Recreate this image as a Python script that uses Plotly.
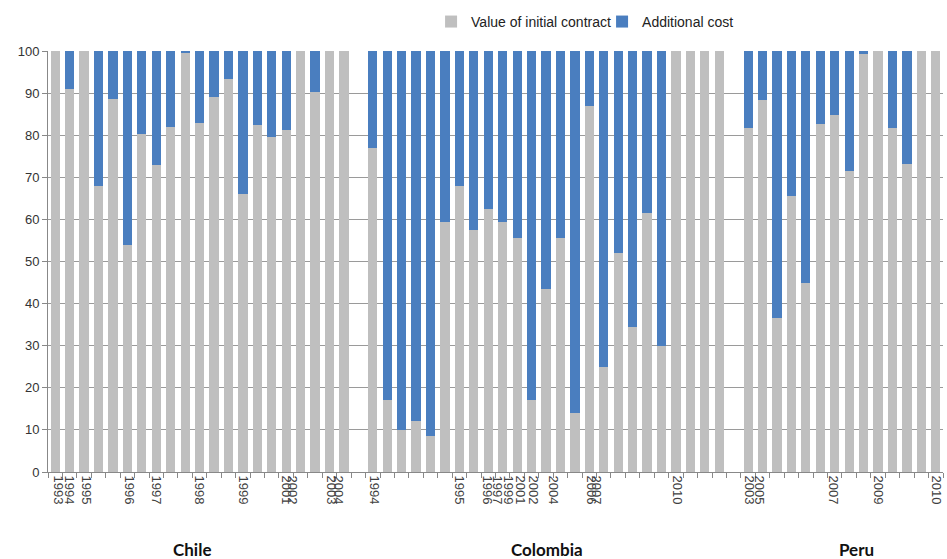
import plotly.graph_objects as go

# ---- data (share of final cost, %) ----
chile_initial = [100, 91, 100, 68, 88.5, 54, 80.4, 73, 82, 99.5, 83, 89, 93.4, 66, 82.4, 79.6, 81.2, 100, 90.3, 100, 100]
colombia_initial = [77, 17, 10, 12, 8.5, 59.5, 68, 57.5, 62.5, 59.5, 55.5, 17, 43.5, 55.5, 14, 87, 25, 52, 34.5, 61.5, 30, 100, 100, 100, 100]
peru_initial = [81.8, 88.3, 36.5, 65.5, 45, 82.7, 84.7, 71.4, 99.2, 100, 81.8, 73.2, 100, 100]

countries = ["Chile", "Colombia", "Peru"]

# year labels shown under the axis, with their place along the bar index axis
tick_labels = ["1993", "1994", "1995", "1996", "1997", "1998", "1999", "2001", "2002", "2003", "2004",
               "1994", "1995", "1996", "1997", "1999", "2001", "2002", "2004", "2006", "2007", "2010",
               "2003", "2005", "2007", "2009", "2010"]
tick_positions = [0.2, 0.95, 2.15, 5.1, 7.0, 10.0, 13.05, 16.0, 16.45, 19.15, 19.6,
                  22.1, 28.0, 29.9, 30.6, 31.4, 32.2, 33.1, 34.5, 37.1, 37.5, 43.1,
                  48.05, 48.8, 53.9, 57.0, 61.0]

# ---- build bar positions (one empty slot between countries) ----
x, initial = [], []
start = 0
for series in (chile_initial, colombia_initial, peru_initial):
    for i, v in enumerate(series):
        x.append(start + i)
        initial.append(v)
    start += len(series) + 1
additional = [round(100 - v, 2) for v in initial]

GREY = "#BFBFBF"
BLUE = "#4A7EBF"

fig = go.Figure()
fig.add_bar(x=x, y=initial, name="Value of initial contract", marker_color=GREY, marker_line_width=0)
fig.add_bar(x=x, y=additional, name="Additional cost", marker_color=BLUE, marker_line_width=0)

fig.update_layout(
    barmode="stack",
    bargap=0.36,
    width=947, height=559,
    margin=dict(l=48, r=4, t=51, b=87),
    paper_bgcolor="white", plot_bgcolor="white",
    font=dict(family="Liberation Sans, Arial, sans-serif", color="#333333"),
    showlegend=True,
    legend=dict(orientation="h", x=0.428, xanchor="left", y=1.069, yanchor="middle",
                traceorder="normal",
                font=dict(family="Liberation Sans, Arial, sans-serif", size=14, color="#222222"),
                entrywidth=126, entrywidthmode="pixels",
                itemsizing="constant", itemwidth=30),
)

fig.update_xaxes(
    range=[-0.5, 61.5],
    tickmode="array", tickvals=tick_positions, ticktext=tick_labels,
    tickangle=90, tickfont=dict(size=13, color="#404040"),
    ticks="", showgrid=False, zeroline=False,
    showline=True, linecolor="#888888", linewidth=1,
    minor=dict(tickmode="linear", tick0=-0.5, dtick=1, ticks="outside", ticklen=5,
               tickcolor="#888888", showgrid=False),
)
fig.update_yaxes(
    range=[0, 100], tickmode="linear", tick0=0, dtick=10,
    tickfont=dict(size=13, color="#333333"),
    ticks="outside", ticklen=5, tickcolor="#888888",
    showgrid=True, gridcolor="#9A9A9A", gridwidth=1,
    showline=True, linecolor="#888888", linewidth=1, zeroline=False,
)

country_x = [9.5, 34.1, 55.5]
for name, cx in zip(countries, country_x):
    fig.add_annotation(x=cx, xref="x", y=-0.185, yref="paper", yanchor="middle",
                       text="<b>%s</b>" % name, showarrow=False,
                       font=dict(family="Lato, Open Sans, sans-serif", size=17, color="#111111"))

fig.write_html("out.html", config={"displayModeBar": False},
               post_script="document.body.style.margin='0';document.body.style.overflow='hidden';")
